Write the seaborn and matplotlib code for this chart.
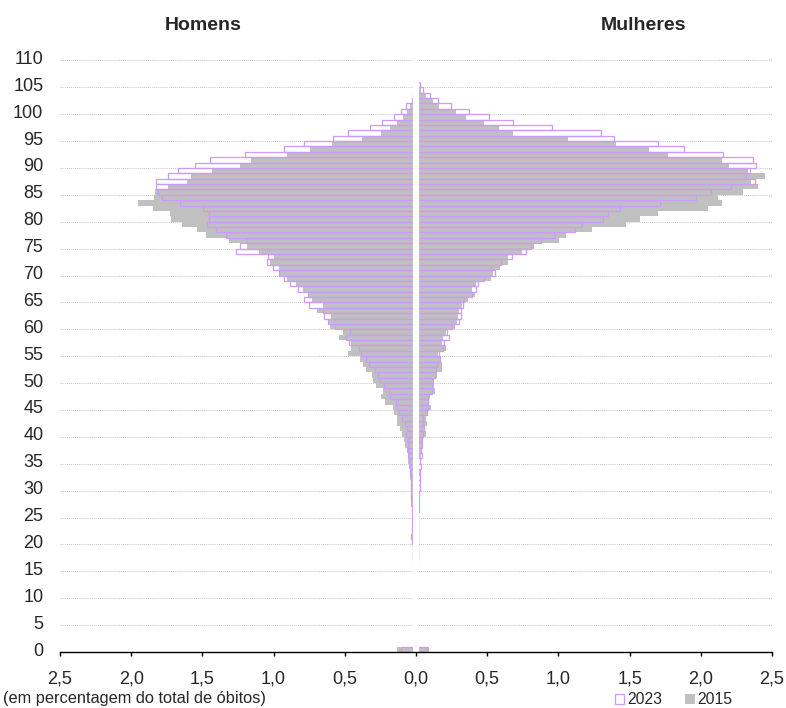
import numpy as np
import pandas as pd
import matplotlib.pyplot as plt
import matplotlib.transforms as mtransforms
from matplotlib.patches import Patch
import seaborn as sns

# Deaths by single year of age, % of total deaths
ages = list(range(111))

men_2023 = [0.105, 0.01, 0.01, 0.01, 0.01, 0.01, 0.01, 0.01, 0.01, 0.01,
            0.01, 0.01, 0.01, 0.01, 0.01, 0.012, 0.015, 0.02, 0.022, 0.024,
            0.025, 0.035, 0.026, 0.027, 0.028, 0.03, 0.03, 0.031, 0.032, 0.033,
            0.034, 0.036, 0.038, 0.04, 0.042, 0.042, 0.054, 0.054, 0.059, 0.054,
            0.070, 0.066, 0.075, 0.101, 0.117, 0.136, 0.140, 0.183, 0.192, 0.225,
            0.253, 0.265, 0.288, 0.328, 0.351, 0.386, 0.400, 0.473, 0.494, 0.461,
            0.566, 0.620, 0.644, 0.651, 0.749, 0.784, 0.756, 0.831, 0.885, 0.927,
            0.962, 1.002, 1.044, 1.039, 1.264, 1.234, 1.189, 1.334, 1.402, 1.465,
            1.454, 1.454, 1.493, 1.655, 1.784, 1.812, 1.826, 1.826, 1.744, 1.669,
            1.550, 1.447, 1.199, 0.925, 0.784, 0.581, 0.475, 0.321, 0.236, 0.152,
            0.108, 0.073, 0.030, 0.023, 0.012, 0.006, 0, 0, 0, 0, 0]

men_2015 = [0.131, 0.01, 0.01, 0.01, 0.01, 0.01, 0.01, 0.01, 0.01, 0.01,
            0.01, 0.01, 0.01, 0.01, 0.01, 0.015, 0.015, 0.02, 0.022, 0.024,
            0.025, 0.026, 0.027, 0.028, 0.029, 0.03, 0.031, 0.032, 0.033, 0.034,
            0.036, 0.038, 0.042, 0.044, 0.047, 0.054, 0.059, 0.066, 0.080, 0.084,
            0.101, 0.112, 0.131, 0.136, 0.154, 0.159, 0.218, 0.248, 0.234, 0.281,
            0.300, 0.311, 0.351, 0.370, 0.393, 0.478, 0.456, 0.456, 0.538, 0.510,
            0.604, 0.609, 0.599, 0.693, 0.651, 0.733, 0.749, 0.791, 0.845, 0.908,
            0.955, 0.964, 1.025, 1.000, 1.105, 1.189, 1.313, 1.477, 1.538, 1.646,
            1.720, 1.728, 1.847, 1.952, 1.838, 1.833, 1.739, 1.608, 1.582, 1.430,
            1.236, 1.159, 0.908, 0.744, 0.592, 0.377, 0.246, 0.183, 0.136, 0.089,
            0.066, 0.042, 0.023, 0.012, 0.006, 0.003, 0, 0, 0, 0, 0]

women_2023 = [0.075, 0.005, 0.005, 0.005, 0.005, 0.005, 0.005, 0.005, 0.005, 0.005,
              0.005, 0.005, 0.005, 0.005, 0.005, 0.01, 0.01, 0.012, 0.012, 0.013,
              0.014, 0.015, 0.015, 0.016, 0.016, 0.017, 0.018, 0.018, 0.019, 0.02,
              0.025, 0.027, 0.028, 0.030, 0.033, 0.028, 0.040, 0.035, 0.040, 0.040,
              0.051, 0.056, 0.051, 0.051, 0.075, 0.087, 0.087, 0.087, 0.110, 0.115,
              0.122, 0.133, 0.140, 0.145, 0.169, 0.162, 0.192, 0.199, 0.229, 0.215,
              0.250, 0.300, 0.314, 0.314, 0.332, 0.339, 0.391, 0.419, 0.433, 0.478,
              0.557, 0.524, 0.595, 0.677, 0.770, 0.805, 0.875, 0.971, 1.114, 1.166,
              1.311, 1.351, 1.433, 1.713, 1.964, 2.069, 2.210, 2.383, 2.315, 2.346,
              2.388, 2.369, 2.158, 1.882, 1.702, 1.393, 1.299, 0.957, 0.684, 0.513,
              0.375, 0.243, 0.157, 0.098, 0.050, 0.030, 0.010, 0, 0, 0, 0]

women_2015 = [0.094, 0.005, 0.005, 0.005, 0.005, 0.005, 0.005, 0.005, 0.005, 0.005,
              0.005, 0.005, 0.005, 0.005, 0.005, 0.008, 0.01, 0.01, 0.011, 0.012,
              0.012, 0.013, 0.013, 0.014, 0.014, 0.015, 0.016, 0.016, 0.017, 0.018,
              0.020, 0.022, 0.024, 0.025, 0.023, 0.023, 0.033, 0.035, 0.051, 0.044,
              0.068, 0.063, 0.075, 0.068, 0.075, 0.103, 0.091, 0.098, 0.133, 0.126,
              0.126, 0.145, 0.180, 0.180, 0.173, 0.157, 0.208, 0.185, 0.192, 0.211,
              0.274, 0.286, 0.297, 0.302, 0.321, 0.363, 0.414, 0.391, 0.420, 0.527,
              0.543, 0.590, 0.644, 0.644, 0.747, 0.829, 1.004, 1.051, 1.234, 1.472,
              1.573, 1.702, 2.048, 2.151, 2.118, 2.294, 2.404, 2.350, 2.451, 2.329,
              2.198, 2.147, 1.772, 1.634, 1.402, 1.070, 0.684, 0.583, 0.475, 0.351,
              0.281, 0.162, 0.117, 0.068, 0.035, 0.010, 0, 0, 0, 0, 0]

gray = '#C0C0C0'
purple = '#CC99FF'

sns.set_style('white')
plt.rcParams['font.family'] = ['Liberation Sans', 'DejaVu Sans']

df = pd.DataFrame({'age': ages, 'men_2023': men_2023, 'men_2015': men_2015,
                   'women_2023': women_2023, 'women_2015': women_2015})
df['pos'] = df['age'] + 0.5

fig = plt.figure(figsize=(7.86, 7.08), dpi=100)
ax = fig.add_axes([60 / 786, 56 / 708, 712 / 786, 597 / 708])

# 2015 filled grey bars (men to the left as negative values)
sns.barplot(x=-df['men_2015'], y=df['pos'], orient='y', native_scale=True, width=1,
            color=gray, saturation=1, errorbar=None, linewidth=0, ax=ax)
sns.barplot(x=df['women_2015'], y=df['pos'], orient='y', native_scale=True, width=1,
            color=gray, saturation=1, errorbar=None, linewidth=0, ax=ax)
# 2023 outlined bars on top
sns.barplot(x=-df['men_2023'], y=df['pos'], orient='y', native_scale=True, width=1,
            color=purple, saturation=1, fill=False, errorbar=None, linewidth=0.9, ax=ax)
sns.barplot(x=df['women_2023'], y=df['pos'], orient='y', native_scale=True, width=1,
            color=purple, saturation=1, fill=False, errorbar=None, linewidth=0.9, ax=ax)

# white gap between the two halves
ax.axvline(0, color='white', lw=4.4, zorder=2.2)

ax.set_xlim(-2.5, 2.5)
ax.set_ylim(0, 111)
ax.set_xlabel('')
ax.set_ylabel('')

xt = np.arange(-2.5, 2.51, 0.5)
ax.set_xticks(xt)
ax.set_xticklabels([f'{abs(v):.1f}'.replace('.', ',') for v in xt], fontsize=13)
ax.set_yticks(range(0, 111, 5))
ax.set_yticklabels([str(v) for v in range(0, 111, 5)], fontsize=13)

ax.tick_params(axis='x', direction='out', length=3, width=1, color='black', pad=10.5, bottom=True)
ax.tick_params(axis='y', length=0, pad=12)
# nudge y labels slightly up, as in the original
off = mtransforms.ScaledTranslation(0, 3 / 100, fig.dpi_scale_trans)
for lab in ax.get_yticklabels():
    lab.set_transform(lab.get_transform() + off)

ax.grid(axis='y', linestyle=(0, (1, 1)), color='#c8c8c8', linewidth=0.75)
ax.grid(axis='x', visible=False)
ax.set_axisbelow(True)

for s in ['top', 'right', 'left']:
    ax.spines[s].set_visible(False)
ax.spines['bottom'].set_color('black')
ax.spines['bottom'].set_linewidth(1)
ax.spines['bottom'].set_zorder(3)

fig.text(203 / 786, 1 - 25 / 708, 'Homens', ha='center', va='center', fontsize=14, fontweight='bold')
fig.text(644 / 786, 1 - 25 / 708, 'Mulheres', ha='center', va='center', fontsize=14, fontweight='bold')
fig.text(3 / 786, 1 - 698 / 708, '(em percentagem do total de óbitos)', ha='left', va='center', fontsize=11.8)

handles = [Patch(facecolor='white', edgecolor=purple, linewidth=0.9),
           Patch(facecolor=gray, edgecolor='none')]
fig.legend(handles, ['2023', '2015'], loc='center left', bbox_to_anchor=(615 / 786, 1 - 700 / 708),
           ncol=2, frameon=False, fontsize=11.3, handlelength=0.6, handleheight=0.6,
           handletextpad=0.15, columnspacing=1.5, borderpad=0, borderaxespad=0)

plt.savefig('out.png', dpi=100)
